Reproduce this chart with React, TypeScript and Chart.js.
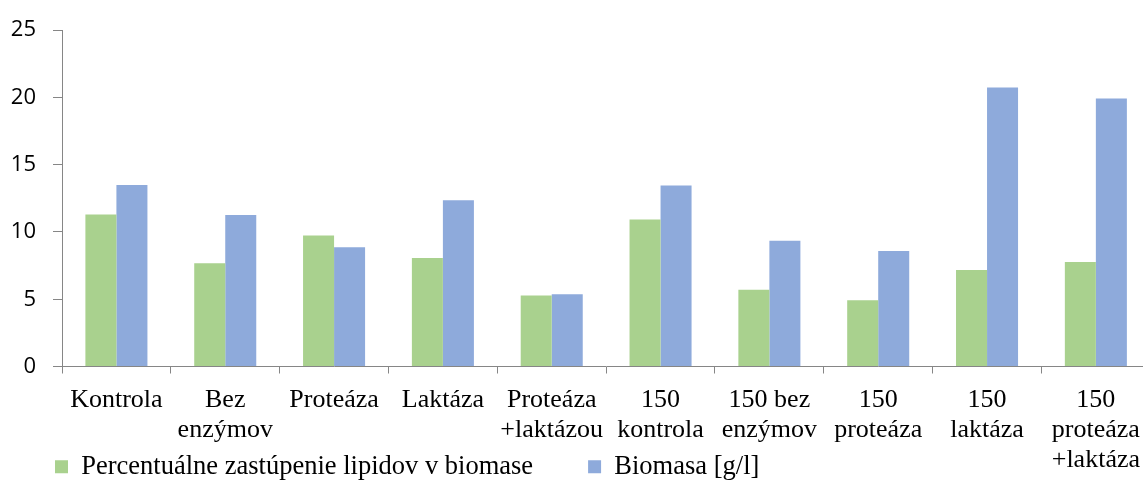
import React, { useEffect, useRef } from "react";
import { Chart, registerables } from "chart.js";

Chart.register(...registerables);

const categories: (string | string[])[] = [
  "Kontrola",
  ["Bez", "enzýmov"],
  "Proteáza",
  "Laktáza",
  ["Proteáza", "+laktázou"],
  ["150", "kontrola"],
  ["150 bez", "enzýmov"],
  ["150", "proteáza"],
  ["150", "laktáza"],
  ["150", "proteáza", "+laktáza"],
];

const lipidLabel = "Percentuálne zastúpenie lipidov v biomase";
const lipidValues = [11.3, 7.67, 9.73, 8.06, 5.27, 10.93, 5.71, 4.93, 7.18, 7.77];

const biomassLabel = "Biomasa [g/l]";
const biomassValues = [13.5, 11.27, 8.87, 12.35, 5.37, 13.46, 9.34, 8.58, 20.74, 19.93];

const yTicks = [0, 5, 10, 15, 20, 25];

const GREEN = "#a9d18e";
const BLUE = "#8eaadb";
const AXIS = "#868686";

// Let the multi-line x labels spill below the (compact) x-scale box, as in the reference.
const unclipXLabels = {
  id: "unclipXLabels",
  afterLayout(chart: any) {
    const x = chart.scales.x;
    if (x) x.bottom = chart.height;
  },
};

export default function App() {
  const ref = useRef<HTMLCanvasElement | null>(null);

  useEffect(() => {
    if (!ref.current) return;
    const chart = new Chart(ref.current, {
      type: "bar",
      data: {
        labels: categories,
        datasets: [
          {
            label: lipidLabel,
            data: lipidValues,
            backgroundColor: GREEN,
            borderWidth: 0,
            categoryPercentage: 0.57,
            barPercentage: 1,
          },
          {
            label: biomassLabel,
            data: biomassValues,
            backgroundColor: BLUE,
            borderWidth: 0,
            categoryPercentage: 0.57,
            barPercentage: 1,
          },
        ],
      },
      plugins: [unclipXLabels],
      options: {
        responsive: false,
        animation: false,
        devicePixelRatio: 1,
        layout: { padding: { top: 27, left: 0, right: 0, bottom: 0 } },
        plugins: {
          tooltip: { enabled: false },
          legend: {
            position: "bottom",
            align: "start",
            labels: {
              boxWidth: 13,
              boxHeight: 13,
              padding: 55,
              color: "#000",
              font: { family: "'Liberation Serif', 'Times New Roman', serif", size: 26.5 },
            },
          },
        },
        scales: {
          x: {
            afterFit: (scale: any) => {
              scale.height = 32;
            },
            grid: {
              display: true,
              drawOnChartArea: false,
              drawTicks: true,
              tickLength: 7,
              color: AXIS,
              offset: true,
            },
            border: { display: true, color: AXIS, width: 1 },
            ticks: {
              color: "#000",
              padding: 12,
              maxRotation: 0,
              autoSkip: false,
              font: { family: "'Liberation Serif', 'Times New Roman', serif", size: 26, lineHeight: 1.15 },
            },
          },
          y: {
            min: 0,
            max: 25,
            afterFit: (scale: any) => {
              scale.width = 62;
            },
            afterBuildTicks: (scale: any) => {
              scale.ticks = yTicks.map((v) => ({ value: v }));
            },
            grid: {
              display: true,
              drawOnChartArea: false,
              drawTicks: true,
              tickLength: 9,
              color: AXIS,
            },
            border: { display: true, color: AXIS, width: 1 },
            ticks: {
              color: "#000",
              padding: 17,
              font: { family: "'Open Sans', 'Noto Sans', sans-serif", size: 22 },
            },
          },
        },
      },
    });
    return () => chart.destroy();
  }, []);

  return (
    <div
      style={{
        position: "fixed",
        left: 0,
        top: 0,
        width: 1143,
        height: 482,
        overflow: "hidden",
        background: "#fff",
      }}
    >
      <canvas ref={ref} width={1152} height={490} style={{ display: "block" }} />
    </div>
  );
}
